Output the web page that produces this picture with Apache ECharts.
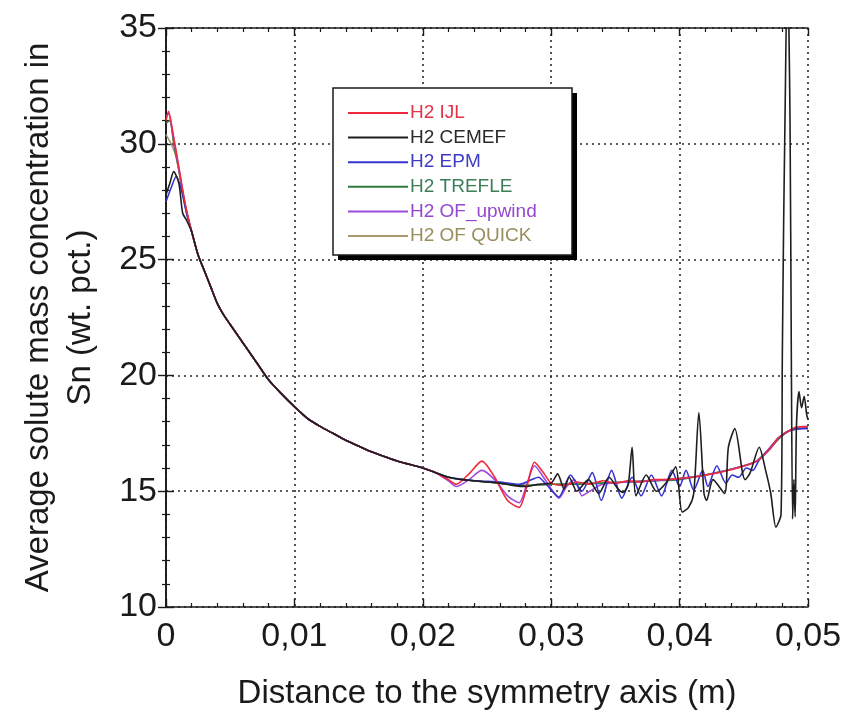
<!DOCTYPE html>
<html>
<head>
<meta charset="utf-8">
<script src="https://cdn.jsdelivr.net/npm/echarts@6/dist/echarts.min.js"></script>
<style>
  html, body { margin: 0; padding: 0; background: #fff; }
  #chart { width: 856px; height: 716px; }
</style>
</head>
<body>
<div id="chart"></div>
<script>
// Series names, in legend order
const seriesNames = ['H2 IJL', 'H2 CEMEF', 'H2 EPM', 'H2 TREFLE', 'H2 OF_upwind', 'H2 OF QUICK'];
const lineColors = ['#ee2a3c', '#1e1e1e', '#3434d0', '#2f7a3e', '#a048dc', '#a8996a'];
const textColors = ['#e23446', '#2a2a2a', '#3c3cc4', '#3b7e58', '#9448d0', '#998d5e'];

// Axis tick labels
const xTickLabels = ['0', '0,01', '0,02', '0,03', '0,04', '0,05'];

// Shared decay of the profile between 2 mm and 21 mm
const decayX = [0.002, 0.0025, 0.003, 0.0035, 0.004, 0.0045, 0.005, 0.006, 0.007, 0.008, 0.009,
  0.010, 0.011, 0.012, 0.013, 0.014, 0.015, 0.016, 0.017, 0.018, 0.019, 0.020, 0.021];
const decayY = [26.2, 25.2, 24.5, 23.8, 23.1, 22.6, 22.2, 21.4, 20.6, 19.8, 19.2,
  18.65, 18.15, 17.8, 17.5, 17.2, 16.95, 16.7, 16.5, 16.3, 16.15, 16.0, 15.8];

// Near-axis part of each profile (x < 2 mm)
const ijlHead = [[0, 31.0], [0.0002, 31.4], [0.0005, 30.6], [0.001, 29.0], [0.0015, 27.4]];
const cemefHead = [[0, 27.8], [0.0003, 28.3], [0.0006, 28.8], [0.001, 28.3], [0.0013, 27.0], [0.0016, 26.7]];
const epmHead = [[0, 27.5], [0.0004, 28.1], [0.0008, 28.6], [0.0012, 28.0], [0.0016, 27.0]];
const trefleHead = [[0, 30.9], [0.0003, 31.0], [0.0006, 30.0], [0.001, 28.9], [0.0015, 27.3]];
const upwindHead = [[0, 31.2], [0.0002, 31.3], [0.0005, 30.5], [0.001, 28.9], [0.0015, 27.3]];
const quickHead = [[0, 30.4], [0.0004, 30.0], [0.0008, 29.4], [0.0012, 28.2], [0.0016, 27.1]];

// Outer part of each profile (x >= 22 mm)
const ijlTail = [[0.022, 15.5], [0.0226, 15.3], [0.0236, 15.75], [0.0246, 16.3], [0.0256, 15.6],
  [0.0266, 14.6], [0.0275, 14.3], [0.0281, 15.2], [0.0287, 16.25], [0.0294, 15.8], [0.030, 15.35],
  [0.031, 15.25], [0.032, 15.4], [0.033, 15.3], [0.034, 15.45], [0.035, 15.35], [0.036, 15.45],
  [0.037, 15.4], [0.038, 15.5], [0.039, 15.5], [0.040, 15.55], [0.041, 15.6], [0.042, 15.7],
  [0.043, 15.8], [0.0445, 16.0], [0.046, 16.3], [0.047, 16.8], [0.0477, 17.3], [0.0485, 17.6],
  [0.049, 17.75], [0.05, 17.8]];
const cemefTail = [[0.022, 15.6], [0.023, 15.5], [0.024, 15.45], [0.025, 15.4], [0.026, 15.35],
  [0.027, 15.25], [0.028, 15.2], [0.029, 15.3], [0.030, 15.35], [0.0305, 15.75], [0.031, 15.1],
  [0.0314, 15.6], [0.032, 15.0], [0.0329, 15.5], [0.0337, 14.9], [0.0345, 15.6], [0.0352, 15.1],
  [0.0356, 14.95], [0.0360, 15.3], [0.0363, 16.9], [0.0366, 14.8], [0.0374, 15.7], [0.0382, 15.0],
  [0.039, 15.4], [0.0397, 16.05], [0.0402, 14.1], [0.0407, 14.3], [0.0411, 14.9], [0.0415, 18.4],
  [0.0419, 14.9], [0.0421, 14.6], [0.0426, 15.5], [0.0435, 14.9], [0.0438, 16.9], [0.0443, 17.7],
  [0.0449, 15.8], [0.0451, 15.5], [0.0455, 15.8], [0.0462, 16.9], [0.0467, 15.9], [0.0471, 14.9],
  [0.0475, 13.45], [0.0479, 14.0], [0.0480, 20.8], [0.0481, 26.4], [0.0482, 30.7], [0.0484, 38.0],
  [0.0486, 31.0], [0.0487, 21.0], [0.0488, 13.8], [0.0489, 15.5], [0.0490, 13.9], [0.0491, 17.8],
  [0.0493, 19.3], [0.0495, 18.6], [0.0497, 19.1], [0.0499, 18.3], [0.05, 18.1]];
const epmTail = [[0.022, 15.6], [0.024, 15.45], [0.026, 15.4], [0.0275, 15.3], [0.0285, 15.5],
  [0.029, 15.6], [0.0296, 15.3], [0.0306, 14.75], [0.0315, 15.7], [0.0324, 15.0], [0.0332, 15.8],
  [0.0339, 14.6], [0.0347, 15.9], [0.0355, 14.7], [0.0363, 15.6], [0.037, 14.8], [0.0378, 15.7],
  [0.0386, 14.8], [0.0394, 15.9], [0.040, 15.2], [0.0405, 15.9], [0.0411, 15.05], [0.0418, 15.9],
  [0.0422, 15.2], [0.0429, 16.1], [0.0436, 15.35], [0.0441, 15.7], [0.0446, 15.6], [0.0452, 16.0],
  [0.0457, 15.9], [0.0462, 16.35], [0.047, 16.8], [0.0477, 17.3], [0.0485, 17.6], [0.049, 17.7],
  [0.05, 17.7]];
const trefleTail = [[0.022, 15.6], [0.024, 15.45], [0.026, 15.35], [0.028, 15.25], [0.030, 15.3],
  [0.032, 15.3], [0.034, 15.35], [0.036, 15.4], [0.038, 15.45], [0.040, 15.5], [0.042, 15.7],
  [0.044, 15.95], [0.046, 16.3], [0.0477, 17.25], [0.0485, 17.6], [0.05, 17.75]];
const upwindTail = [[0.022, 15.45], [0.0226, 15.2], [0.0236, 15.5], [0.0246, 15.9], [0.0256, 15.5],
  [0.0266, 14.8], [0.0275, 14.5], [0.0281, 15.3], [0.0287, 16.1], [0.0294, 15.6], [0.030, 15.1],
  [0.0306, 14.7], [0.0312, 15.2], [0.0318, 15.5], [0.0324, 14.8], [0.033, 15.0], [0.034, 15.3],
  [0.036, 15.4], [0.038, 15.45], [0.040, 15.55], [0.042, 15.7], [0.044, 15.95], [0.046, 16.3],
  [0.0477, 17.3], [0.0485, 17.6], [0.05, 17.75]];
const quickTail = [[0.022, 15.6], [0.024, 15.45], [0.026, 15.35], [0.028, 15.25], [0.030, 15.3],
  [0.033, 15.35], [0.036, 15.4], [0.039, 15.5], [0.042, 15.7], [0.044, 15.95], [0.046, 16.3],
  [0.0477, 17.25], [0.0485, 17.6], [0.05, 17.75]];

const decay = decayX.map((x, i) => [x, decayY[i]]);
const profiles = [
  ijlHead.concat(decay, ijlTail),
  cemefHead.concat(decay, cemefTail),
  epmHead.concat(decay, epmTail),
  trefleHead.concat(decay, trefleTail),
  upwindHead.concat(decay, upwindTail),
  quickHead.concat(decay, quickTail)
];

// Draw order: the lighter curves underneath, CEMEF on top
const drawOrder = [5, 3, 4, 2, 0, 1];

const FONT = '"Liberation Sans", Arial, Helvetica, sans-serif';
const INK = '#1a1a1a';

const chart = echarts.init(document.getElementById('chart'), null, { renderer: 'canvas' });

const frameAxis = {
  axisLine: { show: true, lineStyle: { color: INK, width: 1.6 } },
  axisTick: { show: true, inside: true, length: 8, lineStyle: { color: INK, width: 1.4 } },
  minorTick: { show: true, splitNumber: 5, length: 4, lineStyle: { color: INK, width: 1.2 } },
  splitLine: { show: false }
};

// Legend frame with a solid drop shadow
const legendBox = { x: 333, y: 88, w: 239, h: 167, shadow: 5 };

chart.setOption({
  animation: false,
  backgroundColor: '#ffffff',
  grid: { left: 166, right: 48, top: 28, bottom: 109, containLabel: false },
  graphic: [
    {
      type: 'rect', z: 10,
      shape: { x: legendBox.x + legendBox.shadow, y: legendBox.y + legendBox.shadow, width: legendBox.w, height: legendBox.h },
      style: { fill: '#000000' }
    },
    {
      type: 'rect', z: 11,
      shape: { x: legendBox.x, y: legendBox.y, width: legendBox.w, height: legendBox.h },
      style: { fill: '#ffffff', stroke: INK, lineWidth: 1.5 }
    }
  ],
  legend: {
    orient: 'vertical',
    left: 333,
    top: 88,
    z: 20,
    align: 'left',
    padding: [15, 32, 10, 15],
    itemWidth: 60,
    itemHeight: 2,
    itemGap: 4.6,
    icon: 'rect',
    textStyle: { fontFamily: FONT, fontSize: 19, lineHeight: 20, padding: [0, 0, 0, -3] },
    data: seriesNames.map((n, i) => ({ name: n, textStyle: { color: textColors[i] } }))
  },
  xAxis: [
    Object.assign({}, frameAxis, {
      type: 'value', min: 0, max: 0.05, interval: 0.01, position: 'bottom',
      name: 'Distance to the symmetry axis (m)',
      nameLocation: 'middle', nameGap: 70,
      nameTextStyle: { fontFamily: FONT, fontSize: 33, color: INK },
      axisLabel: {
        fontFamily: FONT, fontSize: 34, color: INK, margin: 13,
        formatter: v => xTickLabels[Math.round(v / 0.01)]
      },
      splitLine: { show: true, lineStyle: { color: '#2a2a2a', width: 1.6, type: [2, 4] } }
    }),
    Object.assign({}, frameAxis, {
      type: 'value', min: 0, max: 0.05, interval: 0.01, position: 'top',
      axisLabel: { show: false }
    })
  ],
  yAxis: [
    Object.assign({}, frameAxis, {
      type: 'value', min: 10, max: 35, interval: 5, position: 'left',
      name: 'Average solute mass concentration in\nSn (wt. pct.)',
      nameLocation: 'middle', nameGap: 64,
      nameTextStyle: { fontFamily: FONT, fontSize: 33, color: INK, lineHeight: 42, align: 'center' },
      axisLabel: { fontFamily: FONT, fontSize: 34, color: INK, margin: 9 },
      splitLine: { show: true, lineStyle: { color: '#2a2a2a', width: 1.6, type: [2, 4] } }
    }),
    Object.assign({}, frameAxis, {
      type: 'value', min: 10, max: 35, interval: 5, position: 'right',
      axisLabel: { show: false }
    })
  ],
  series: drawOrder.map(i => ({
    name: seriesNames[i],
    type: 'line',
    xAxisIndex: 0,
    yAxisIndex: 0,
    data: profiles[i],
    showSymbol: false,
    symbol: 'none',
    smooth: 0.25,
    clip: true,
    color: lineColors[i],
    lineStyle: { color: lineColors[i], width: 1.6 }
  }))
});
</script>
</body>
</html>
